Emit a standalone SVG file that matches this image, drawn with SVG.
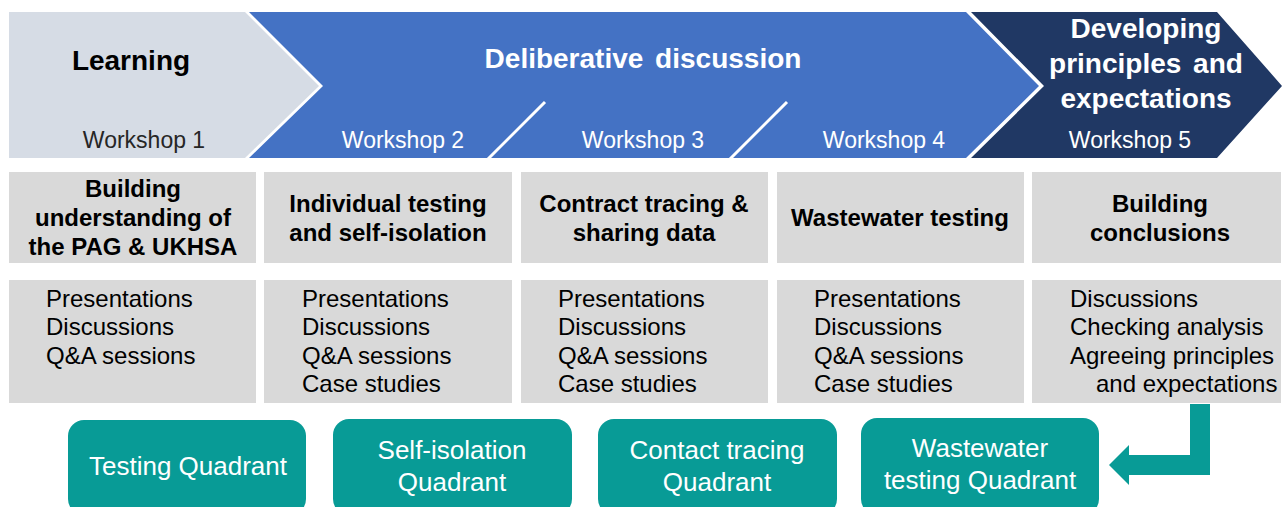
<svg xmlns="http://www.w3.org/2000/svg" width="1282" height="507" viewBox="0 0 1282 507">
  <defs>
    <style>
      text { font-family: "Liberation Sans", Arial, sans-serif; }
      .phase { font-size: 28px; font-weight: bold; text-anchor: middle; }
      .ws { font-size: 23px; text-anchor: middle; }
      .hdr { fill: #d9d9d9; }
      .hdr-t { font-size: 24px; font-weight: bold; text-anchor: middle; fill: #000; }
      .body-t { font-size: 24px; fill: #000; }
      .quad { fill: #089b96; }
      .quad-t { font-size: 26px; fill: #fff; text-anchor: middle; }
    </style>
  </defs>
  <rect width="1282" height="507" fill="#fff"/>

  <!-- phase chevrons -->
  <g id="phase-learning">
    <polygon points="9,12 245,12 319,86 245,158 9,158" fill="#d6dce5"/>
    <text class="phase" x="131" y="70" fill="#000">Learning</text>
    <text class="ws" x="144" y="148" fill="#262626">Workshop 1</text>
  </g>
  <g id="phase-deliberative">
    <polygon points="249,12 966,12 1039,86 966,158 249,158 323,86" fill="#4472c4"/>
    <line x1="545" y1="102" x2="488" y2="159" stroke="#fff" stroke-width="3"/>
    <line x1="787" y1="102" x2="730" y2="159" stroke="#fff" stroke-width="3"/>
    <text class="phase" x="643" y="68" fill="#fff" word-spacing="4">Deliberative discussion</text>
    <text class="ws" x="403" y="148" fill="#fff">Workshop 2</text>
    <text class="ws" x="643" y="148" fill="#fff">Workshop 3</text>
    <text class="ws" x="884" y="148" fill="#fff">Workshop 4</text>
  </g>
  <g id="phase-developing">
    <polygon points="971,12 1217,12 1282,86 1217,158 971,158 1044,86" fill="#203864"/>
    <text class="phase" x="1146" y="38" fill="#fff">Developing</text>
    <text class="phase" x="1146" y="73" fill="#fff" word-spacing="4">principles and</text>
    <text class="phase" x="1146" y="108" fill="#fff">expectations</text>
    <text class="ws" x="1130" y="148" fill="#fff">Workshop 5</text>
  </g>

  <!-- workshop topic headers -->
  <g id="topic-1">
    <rect class="hdr" x="9" y="172" width="247" height="91"/>
    <text class="hdr-t" x="133" y="197">Building</text>
    <text class="hdr-t" x="133" y="226">understanding of</text>
    <text class="hdr-t" x="133" y="255">the PAG &amp; UKHSA</text>
  </g>
  <g id="topic-2">
    <rect class="hdr" x="264" y="172" width="248" height="91"/>
    <text class="hdr-t" x="388" y="212">Individual testing</text>
    <text class="hdr-t" x="388" y="241">and self-isolation</text>
  </g>
  <g id="topic-3">
    <rect class="hdr" x="521" y="172" width="247" height="91"/>
    <text class="hdr-t" x="644" y="212">Contract tracing &amp;</text>
    <text class="hdr-t" x="644" y="241">sharing data</text>
  </g>
  <g id="topic-4">
    <rect class="hdr" x="777" y="172" width="247" height="91"/>
    <text class="hdr-t" x="900" y="226">Wastewater testing</text>
  </g>
  <g id="topic-5">
    <rect class="hdr" x="1032" y="172" width="249" height="91"/>
    <text class="hdr-t" x="1160" y="212">Building</text>
    <text class="hdr-t" x="1160" y="241">conclusions</text>
  </g>

  <!-- activity lists -->
  <g id="activities-1">
    <rect class="hdr" x="9" y="280" width="247" height="123"/>
    <text class="body-t" x="46" y="307">Presentations</text>
    <text class="body-t" x="46" y="335">Discussions</text>
    <text class="body-t" x="46" y="364">Q&amp;A sessions</text>
  </g>
  <g id="activities-2">
    <rect class="hdr" x="264" y="280" width="248" height="123"/>
    <text class="body-t" x="302" y="307">Presentations</text>
    <text class="body-t" x="302" y="335">Discussions</text>
    <text class="body-t" x="302" y="364">Q&amp;A sessions</text>
    <text class="body-t" x="302" y="392">Case studies</text>
  </g>
  <g id="activities-3">
    <rect class="hdr" x="521" y="280" width="247" height="123"/>
    <text class="body-t" x="558" y="307">Presentations</text>
    <text class="body-t" x="558" y="335">Discussions</text>
    <text class="body-t" x="558" y="364">Q&amp;A sessions</text>
    <text class="body-t" x="558" y="392">Case studies</text>
  </g>
  <g id="activities-4">
    <rect class="hdr" x="777" y="280" width="247" height="123"/>
    <text class="body-t" x="814" y="307">Presentations</text>
    <text class="body-t" x="814" y="335">Discussions</text>
    <text class="body-t" x="814" y="364">Q&amp;A sessions</text>
    <text class="body-t" x="814" y="392">Case studies</text>
  </g>
  <g id="activities-5">
    <rect class="hdr" x="1032" y="280" width="249" height="123"/>
    <text class="body-t" x="1070" y="307">Discussions</text>
    <text class="body-t" x="1070" y="335">Checking analysis</text>
    <text class="body-t" x="1070" y="364">Agreeing principles</text>
    <text class="body-t" x="1096" y="392">and expectations</text>
  </g>

  <!-- quadrant outputs -->
  <g id="quad-testing">
    <rect class="quad" x="68" y="420" width="238" height="95" rx="16"/>
    <text class="quad-t" x="188" y="475">Testing Quadrant</text>
  </g>
  <g id="quad-self-isolation">
    <rect class="quad" x="333" y="419" width="239" height="96" rx="16"/>
    <text class="quad-t" x="452" y="459">Self-isolation</text>
    <text class="quad-t" x="452" y="491">Quadrant</text>
  </g>
  <g id="quad-contact">
    <rect class="quad" x="598" y="419" width="239" height="96" rx="16"/>
    <text class="quad-t" x="717" y="459">Contact tracing</text>
    <text class="quad-t" x="717" y="491">Quadrant</text>
  </g>
  <g id="quad-wastewater">
    <rect class="quad" x="861" y="418" width="238" height="97" rx="16"/>
    <text class="quad-t" x="980" y="457">Wastewater</text>
    <text class="quad-t" x="980" y="489">testing Quadrant</text>
  </g>

  <!-- connectors -->
  <g id="connectors">
    <polygon points="1190,404 1210,404 1210,475 1129,475 1129,485 1109,465 1129,445 1129,455 1190,455" fill="#089b96"/>
  </g>
</svg>
